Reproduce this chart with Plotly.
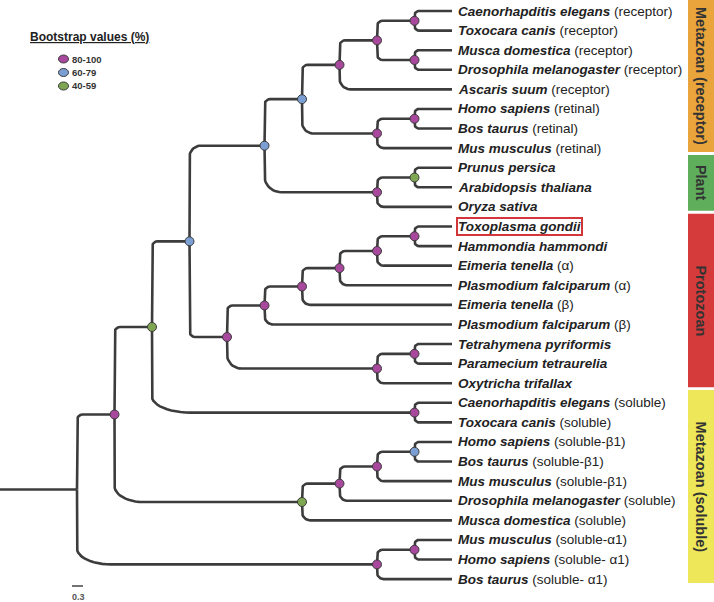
import math
import plotly.graph_objects as go

# ---------------- data ----------------
leaf_species = [
    "Caenorhapditis elegans", "Toxocara canis", "Musca domestica",
    "Drosophila melanogaster", "Ascaris suum", "Homo sapiens", "Bos taurus",
    "Mus musculus", "Prunus persica", "Arabidopsis thaliana", "Oryza sativa",
    "Toxoplasma gondii", "Hammondia hammondi", "Eimeria tenella",
    "Plasmodium falciparum", "Eimeria tenella", "Plasmodium falciparum",
    "Tetrahymena pyriformis", "Paramecium tetraurelia", "Oxytricha trifallax",
    "Caenorhapditis elegans", "Toxocara canis", "Homo sapiens", "Bos taurus",
    "Mus musculus", "Drosophila melanogaster", "Musca domestica",
    "Mus musculus", "Homo sapiens", "Bos taurus",
]
leaf_notes = [
    "(receptor)", "(receptor)", "(receptor)", "(receptor)", "(receptor)",
    "(retinal)", "(retinal)", "(retinal)",
    "", "", "",
    "", "", "(α)", "(α)", "(β)", "(β)", "", "", "",
    "(soluble)", "(soluble)", "(soluble-β1)", "(soluble-β1)", "(soluble-β1)",
    "(soluble)", "(soluble)", "(soluble-α1)", "(soluble- α1)", "(soluble- α1)",
]
highlight_leaf = 11  # Toxoplasma gondii

# internal nodes: (name, upper child, lower child, bootstrap class)
# integers refer to leaf indices, strings to other internal nodes
nodes = [
    ("ct_r", 0, 1, "80-100"),
    ("md_r", 2, 3, "80-100"),
    ("nem_ins", "ct_r", "md_r", "80-100"),
    ("rec", "nem_ins", 4, "80-100"),
    ("hb_ret", 5, 6, "80-100"),
    ("ret", "hb_ret", 7, "80-100"),
    ("metaz_r", "rec", "ret", "60-79"),
    ("pa", 8, 9, "40-59"),
    ("plant", "pa", 10, "80-100"),
    ("rec_plant", "metaz_r", "plant", "60-79"),
    ("th", 11, 12, "80-100"),
    ("api1", "th", 13, "80-100"),
    ("api2", "api1", 14, "80-100"),
    ("api3", "api2", 15, "80-100"),
    ("api4", "api3", 16, "80-100"),
    ("tp", 17, 18, "80-100"),
    ("cil", "tp", 19, "80-100"),
    ("proto", "api4", "cil", "80-100"),
    ("rpp", "rec_plant", "proto", "60-79"),
    ("ct_s", 20, 21, "80-100"),
    ("rpp_ct", "rpp", "ct_s", "40-59"),
    ("hb_b1", 22, 23, "60-79"),
    ("b1", "hb_b1", 24, "80-100"),
    ("sol_ins", "b1", 25, "80-100"),
    ("sol", "sol_ins", 26, "40-59"),
    ("big", "rpp_ct", "sol", "80-100"),
    ("mh_a1", 27, 28, "80-100"),
    ("a1", "mh_a1", 29, "80-100"),
    ("root", "big", "a1", None),
]

support_classes = ["80-100", "60-79", "40-59"]
support_colors = ["#a8489c", "#7c9fd3", "#7fa653"]

group_names = ["Metazoan (receptor)", "Plant", "Protozoan", "Metazoan (soluble)"]
group_first = [0, 8, 11, 20]
group_last = [7, 10, 19, 29]
group_colors = ["#e9a43c", "#5fae5c", "#d63b3b", "#eee75a"]

scale_bar_label = "0.3"

# ---------------- geometry (layout) ----------------
FIG_W, FIG_H = 714, 602
LEAF_PX = 452.0     # x pixel of leaf tips
STEP_PX = 37.5      # pixels per level
TOP_PX = 11.0       # y pixel of first leaf
ROW_PX = 19.59      # pixels per leaf row

x_range = [-LEAF_PX / STEP_PX, (FIG_W - LEAF_PX) / STEP_PX]
y_range = [(FIG_H - TOP_PX) / ROW_PX, -TOP_PX / ROW_PX]

# ---------------- tree layout ----------------
pos = {}     # name -> (x, y)
height = {}
for i in range(len(leaf_species)):
    pos[i] = (0.0, float(i))
    height[i] = 0
children = {}
support = {}
for name, a, b, s in nodes:
    h = max(height[a], height[b]) + 1
    height[name] = h
    pos[name] = (-float(h), (pos[a][1] + pos[b][1]) / 2.0)
    children[name] = (a, b)
    support[name] = s

bx, by = [], []
for name, (a, b) in children.items():
    xp, yp = pos[name]
    for c in (a, b):
        cx, cy = pos[c]
        H = (cx - xp) * STEP_PX
        V = abs(cy - yp) * ROW_PX
        rx = min(0.15 * H, 0.45 * V)
        ry = min(rx, 0.45 * V, 16.0)
        s = 1.0 if cy > yp else -1.0
        rxd = rx / STEP_PX
        ryd = ry / ROW_PX
        bx.append(xp); by.append(yp)
        for k in range(0, 13):
            t = (math.pi / 2) * k / 12
            bx.append(xp + rxd - rxd * math.cos(t))
            by.append(cy - s * ryd + s * ryd * math.sin(t))
        bx.append(cx); by.append(cy)
        bx.append(None); by.append(None)
# root stem
rx0, ry0 = pos["root"]
bx += [x_range[0], rx0, None]
by += [ry0, ry0, None]

fig = go.Figure()
fig.add_trace(go.Scatter(x=bx, y=by, mode="lines",
                         line=dict(color="#3c3c3c", width=2.6),
                         hoverinfo="skip", showlegend=False))

for cls, col in zip(support_classes, support_colors):
    xs = [pos[n][0] for n in children if support[n] == cls]
    ys = [pos[n][1] for n in children if support[n] == cls]
    fig.add_trace(go.Scatter(x=xs, y=ys, mode="markers", name=cls,
                             marker=dict(symbol="circle", size=9, color=col,
                                         line=dict(color="#3a3a3a", width=1)),
                             showlegend=False))

FONT = "Liberation Sans, Arial, sans-serif"
annotations = []
for i, (sp, note) in enumerate(zip(leaf_species, leaf_notes)):
    txt = "<b><i>%s</i></b>" % sp + ((" " + note) if note else "")
    ann = dict(x=0, y=i, xref="x", yref="y", text=txt, showarrow=False,
               xanchor="left", yanchor="middle", xshift=4,
               font=dict(family=FONT, size=13.5, color="#222222"))
    if i == highlight_leaf:
        ann.update(bordercolor="#d2353a", borderwidth=2, borderpad=0)
    annotations.append(ann)

shapes = []
for name, f, l, col in zip(group_names, group_first, group_last, group_colors):
    y0 = f - 0.65
    y1 = l + 0.2
    shapes.append(dict(type="rect", xref="paper", yref="y",
                       x0=688 / FIG_W, x1=1.0, y0=y0, y1=y1,
                       fillcolor=col, line=dict(width=0), layer="below"))
    annotations.append(dict(x=701 / FIG_W, xref="paper", y=(max(y0, y_range[1]) + y1) / 2,
                            yref="y", text="<b>%s</b>" % name, textangle=90,
                            showarrow=False, xanchor="center", yanchor="middle",
                            font=dict(family=FONT, size=14.5, color="#333333")))

# legend (manual)
def px(xp):
    return xp / FIG_W

def py(yp):
    return 1 - yp / FIG_H

annotations.append(dict(x=px(28), y=py(37), xref="paper", yref="paper",
                        text="<b><u>Bootstrap values (%)</u></b>", showarrow=False,
                        xanchor="left", yanchor="middle",
                        font=dict(family=FONT, size=12, color="#222222")))
for k, (cls, col) in enumerate(zip(support_classes, support_colors)):
    yc = 59 + 13.5 * k
    shapes.append(dict(type="circle", xref="paper", yref="paper",
                       x0=px(58.5), x1=px(68.5), y0=py(yc + 4), y1=py(yc - 4),
                       fillcolor=col, line=dict(color="#3a3a3a", width=1)))
    annotations.append(dict(x=px(70), y=py(yc), xref="paper", yref="paper",
                            text="<b>%s</b>" % cls, showarrow=False,
                            xanchor="left", yanchor="middle",
                            font=dict(family=FONT, size=9.5, color="#333333")))

# scale bar
shapes.append(dict(type="line", xref="paper", yref="paper",
                   x0=px(72), x1=px(83), y0=py(586), y1=py(586),
                   line=dict(color="#444444", width=1.5)))
annotations.append(dict(x=px(78), y=py(597), xref="paper", yref="paper",
                        text="<b>%s</b>" % scale_bar_label, showarrow=False,
                        xanchor="center", yanchor="middle",
                        font=dict(family=FONT, size=9, color="#555555")))

fig.update_layout(
    width=FIG_W, height=FIG_H,
    margin=dict(l=0, r=0, t=0, b=0),
    paper_bgcolor="white", plot_bgcolor="white",
    xaxis=dict(range=x_range, visible=False, fixedrange=True),
    yaxis=dict(range=y_range, visible=False, fixedrange=True),
    annotations=annotations, shapes=shapes,
    showlegend=False,
)
fig.write_html(
    "out.html",
    config={"displayModeBar": False},
    post_script="document.body.style.margin='0';document.documentElement.style.overflow='hidden';",
)
